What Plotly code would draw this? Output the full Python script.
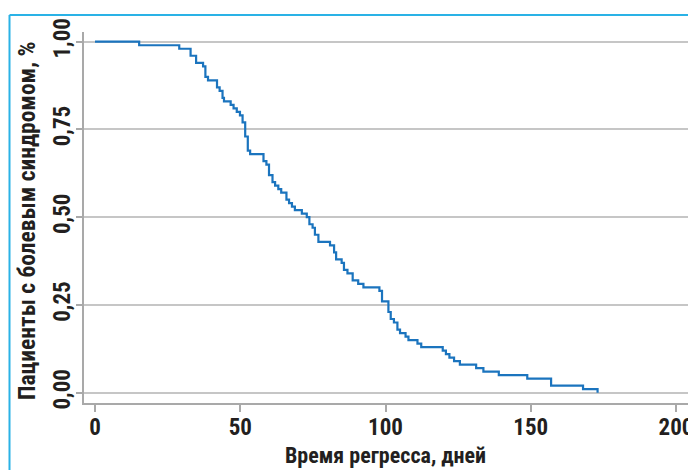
import plotly.graph_objects as go

# Kaplan-Meier step curve: day of each drop and survival after the drop
days = [0, 15.2, 29.0, 32.9, 34.8, 37.2, 38.0, 38.9, 42.0, 42.9, 43.9, 44.4,
        46.7, 47.7, 48.8, 49.9, 50.8, 51.7, 52.6, 53.4, 58.0, 59.0, 59.9,
        61.1, 62.0, 63.1, 64.1, 65.9, 66.8, 67.8, 68.8, 71.2, 72.9, 73.8,
        74.9, 75.7, 76.9, 80.9, 82.3, 83.0, 84.9, 85.7, 86.9, 88.7, 90.6,
        92.4, 97.9, 98.8, 101.0, 101.8, 102.9, 104.1, 105.0, 106.9, 107.9,
        111.0, 112.3, 119.7, 120.8, 122.0, 123.6, 125.6, 131.2, 133.7, 139.0,
        148.8, 157.0, 168.0, 173.0]
surv = [1.00, 0.99, 0.98, 0.96, 0.94, 0.93, 0.90, 0.89, 0.87, 0.86, 0.84, 0.83,
        0.82, 0.81, 0.80, 0.79, 0.77, 0.73, 0.69, 0.68, 0.66, 0.65, 0.62,
        0.60, 0.59, 0.58, 0.57, 0.55, 0.54, 0.53, 0.52, 0.51, 0.50, 0.48,
        0.47, 0.45, 0.43, 0.42, 0.40, 0.38, 0.37, 0.35, 0.34, 0.32, 0.31,
        0.30, 0.29, 0.26, 0.23, 0.21, 0.20, 0.18, 0.17, 0.16, 0.15,
        0.14, 0.13, 0.12, 0.11, 0.10, 0.09, 0.08, 0.07, 0.06, 0.05,
        0.04, 0.02, 0.01, 0.00]

x_ticks = [0, 50, 100, 150, 200]
y_ticks = [0.0, 0.25, 0.5, 0.75, 1.0]
y_tick_labels = ["0,00", "0,25", "0,50", "0,75", "1,00"]
x_title = "Время регресса, дней"
y_title = "Пациенты с болевым синдромом, %"

FONT = "Liberation Sans Narrow, Arial Narrow, Roboto Condensed, DejaVu Sans Condensed, sans-serif"
TXT = "#231f20"
GRID = "#c6c6c6"
AX = "#a9a9a9"

fig = go.Figure()
fig.add_trace(go.Scatter(x=days, y=surv, mode="lines",
                         line=dict(color="#1b74be", width=2.2, shape="hv"),
                         hoverinfo="skip", showlegend=False))

W, H = 688, 470
L, R, T, B = 84, 0, 32, 67
pw, ph = W - L - R, H - T - B


def px_x(p):
    return (p - L) / pw


def px_y(p):
    return (H - B - p) / ph


fig.update_layout(
    width=W, height=H,
    margin=dict(l=L, r=R, t=T, b=B, pad=0, autoexpand=False),
    paper_bgcolor="white", plot_bgcolor="white",
    font=dict(family=FONT, color=TXT),
    xaxis=dict(range=[-3.787, 204.13], tickvals=x_ticks,
               ticktext=[str(v) for v in x_ticks], automargin=False,
               ticklabeloverflow="allow", ticklabelstandoff=-4,
               showgrid=False, zeroline=False,
               showline=True, linecolor=AX, linewidth=1.5,
               ticks="outside", ticklen=7, tickwidth=1.5, tickcolor=AX,
               tickfont=dict(family=FONT, size=23, color=TXT, weight="bold")),
    yaxis=dict(range=[-0.0293, 1.0277], tickvals=y_ticks, ticktext=y_tick_labels,
               tickangle=-90, automargin=False,
               ticklabeloverflow="allow", ticklabelstandoff=-3,
               showgrid=True, gridcolor=GRID, gridwidth=1.5, zeroline=False,
               showline=True, linecolor=AX, linewidth=1.5,
               ticks="outside", ticklen=6, tickwidth=1.5, tickcolor=AX,
               tickfont=dict(family=FONT, size=23, color=TXT, weight="bold")),
)

fig.add_annotation(text=x_title, xref="paper", yref="paper",
                   x=px_x(385), y=px_y(455), showarrow=False,
                   xanchor="center", yanchor="middle",
                   font=dict(family=FONT, size=22, color=TXT, weight="bold"))
fig.add_annotation(text=y_title, xref="paper", yref="paper",
                   x=px_x(27), y=px_y(221), showarrow=False, textangle=-90,
                   xanchor="center", yanchor="middle",
                   font=dict(family=FONT, size=23.5, color=TXT, weight="bold"))

# light-blue frame (top and left edges of a box cropped by the image)
frame = "#2ab2e6"
fig.add_shape(type="line", xref="paper", yref="paper", x0=px_x(9.5), x1=1.0,
              y0=px_y(15), y1=px_y(15), line=dict(color=frame, width=2))
fig.add_shape(type="line", xref="paper", yref="paper", x0=px_x(9.5), x1=px_x(9.5),
              y0=px_y(15), y1=px_y(471), line=dict(color=frame, width=2))

fig.write_html("out.html", config={"displayModeBar": False},
               post_script="document.body.style.margin='0';"
                           "document.body.style.overflow='hidden';")
